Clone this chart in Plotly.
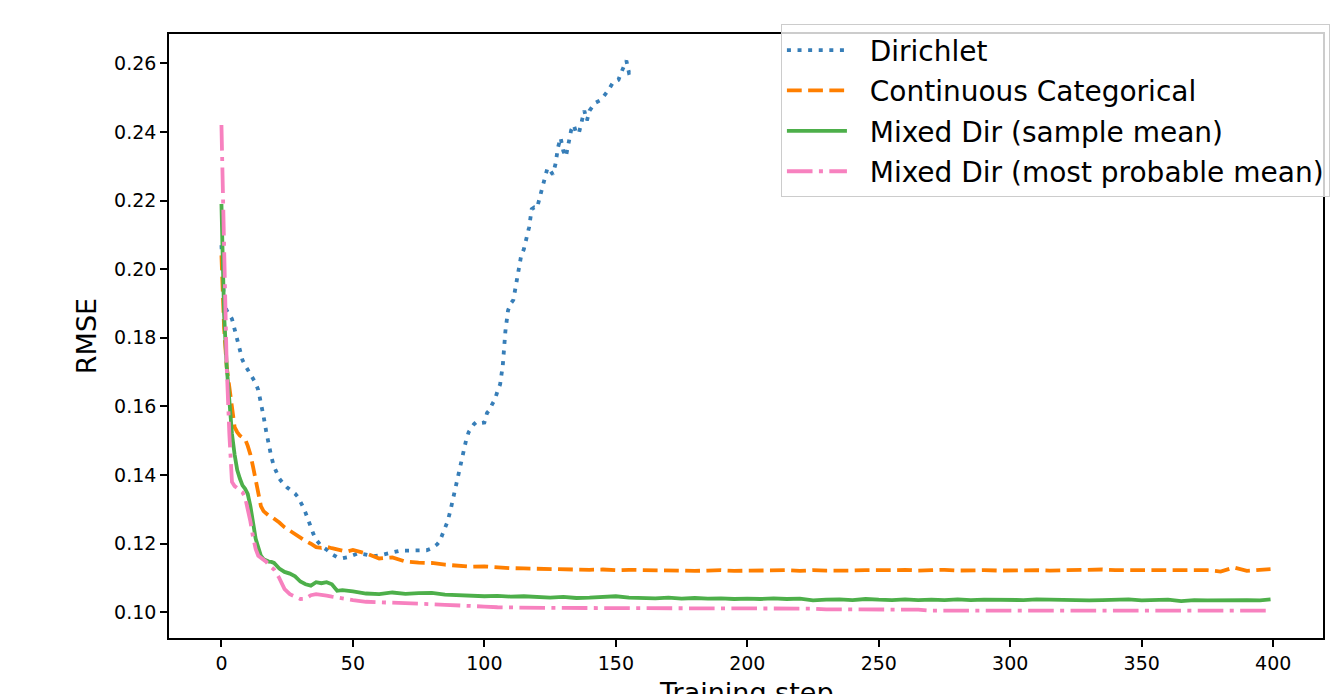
import plotly.graph_objects as go

# ---------------- data ----------------
dir_x = [0, 1, 2, 3, 4, 5, 6, 7, 8, 9, 10, 11, 12, 13, 14, 15, 16, 17, 18, 19,
         20, 21, 22, 23, 24, 25, 26, 27, 28, 29, 30, 31, 32, 33, 34, 35, 36, 37, 38,
         40, 42, 44, 46, 48, 50, 52, 54, 56, 58, 60, 62, 64, 66, 68, 70, 72, 74, 76,
         78, 80, 82, 83, 84, 85, 86, 87, 88, 89, 90, 91, 92, 93, 94, 95, 96, 97, 98,
         99, 100, 101, 102, 103, 104, 105, 106, 107, 108, 109, 110, 111, 112, 113,
         114, 115, 116, 117, 118, 119, 120, 121, 122, 123, 124, 125, 126, 127, 128,
         129, 130, 131, 132, 133, 134, 135, 136, 137, 138, 139, 140, 142, 144, 145,
         147, 149, 151, 152, 153, 154, 155, 156, 157]
dir_y = [0.207, 0.190, 0.188, 0.1865, 0.1855, 0.1825, 0.1798, 0.1765, 0.1735, 0.1720,
         0.1708, 0.1695, 0.1682, 0.1668, 0.1648, 0.1615, 0.1572, 0.1528, 0.1487, 0.1452,
         0.1425, 0.1405, 0.1390, 0.1380, 0.1371, 0.1364, 0.1358, 0.1353, 0.1346, 0.1337,
         0.1325, 0.1308, 0.1290, 0.1268, 0.1248, 0.1228, 0.1212, 0.1200, 0.1193,
         0.1183, 0.1170, 0.1161, 0.1158, 0.1161, 0.1166, 0.1172, 0.1170, 0.1166, 0.1164,
         0.1166, 0.1169, 0.1172, 0.1177, 0.1180, 0.1180, 0.1180, 0.1179, 0.1180,
         0.1181, 0.1187, 0.1198, 0.1207, 0.1225, 0.1241, 0.1265, 0.1294, 0.1330, 0.1357,
         0.1390, 0.1430, 0.1465, 0.1500, 0.1525, 0.1537, 0.1548, 0.1555, 0.1555,
         0.1552, 0.1553, 0.1581, 0.1590, 0.1607, 0.1620, 0.1645, 0.1665, 0.1720, 0.1820,
         0.1880, 0.1900, 0.1910, 0.1955, 0.2000, 0.2040, 0.2058, 0.2088, 0.2122, 0.2175,
         0.2180, 0.2178, 0.2205, 0.2240, 0.2262, 0.2295, 0.2288, 0.2276, 0.2305, 0.2355,
         0.2383, 0.2345, 0.2328, 0.2370, 0.2405, 0.2420, 0.2395, 0.2398, 0.2428, 0.2462,
         0.2433, 0.2462, 0.2484, 0.2492, 0.2500, 0.2520, 0.2545, 0.2552, 0.2572, 0.2590,
         0.2608, 0.2572, 0.2575, 0.2585]

steps = [0, 1, 2, 3, 4, 5, 6, 7, 8, 9, 10, 11, 12, 13, 14, 15, 16, 17, 18, 19, 20,
         22, 24, 26, 28, 30, 32, 34, 36, 38, 40, 42, 44, 46, 48, 50,
         55, 60, 65, 70, 75, 80, 85, 90, 95, 100, 105, 110, 115, 120, 125, 130, 135,
         140, 145, 150, 155, 160, 165, 170, 175, 180, 185, 190, 195, 200, 205, 210,
         215, 220, 225, 230, 235, 240, 245, 250, 255, 260, 265, 270, 275, 280, 285,
         290, 295, 300, 305, 310, 315, 320, 325, 330, 335, 340, 345, 350, 355, 360,
         365, 370, 375, 380, 385, 390, 395, 399]

cc_y = [0.204, 0.183, 0.1715, 0.1655, 0.1590, 0.1540, 0.1525, 0.1515, 0.1510, 0.1505,
        0.1485, 0.1460, 0.1425, 0.1385, 0.1345, 0.1310, 0.1295, 0.1288, 0.1282, 0.1279,
        0.1274,
        0.1262, 0.1248, 0.1238, 0.1225, 0.1218, 0.1208, 0.1200, 0.1190, 0.1188, 0.1191,
        0.1187, 0.1183, 0.1180, 0.1178, 0.1182,
        0.1172, 0.1157, 0.1160, 0.1148, 0.1145, 0.1144, 0.1139, 0.1135, 0.1133, 0.1134,
        0.1131, 0.1129, 0.1128, 0.1127, 0.1126, 0.1125, 0.1125, 0.1124, 0.1125, 0.1123,
        0.1124, 0.1123, 0.1124, 0.1121, 0.1120, 0.1121, 0.1122, 0.1123, 0.1121, 0.1122,
        0.1123, 0.1122, 0.1123, 0.1121, 0.1123, 0.1122, 0.1121, 0.1122, 0.1123, 0.1122,
        0.1123, 0.1124, 0.1122, 0.1123, 0.1124, 0.1122, 0.1123, 0.1123, 0.1122, 0.1123,
        0.1124, 0.1123, 0.1122, 0.1123, 0.1122, 0.1124, 0.1125, 0.1123, 0.1123, 0.1124,
        0.1123, 0.1124, 0.1124, 0.1125, 0.1123, 0.1119, 0.1131, 0.1121, 0.1125, 0.1126]

md_sample_y = [0.219, 0.187, 0.1716, 0.1620, 0.1520, 0.1460, 0.1415, 0.1390, 0.1370,
               0.1360, 0.1345, 0.1310, 0.1260, 0.1215, 0.1190, 0.1165, 0.1155, 0.1150,
               0.1148, 0.1147, 0.1144,
               0.1128, 0.1118, 0.1113, 0.1105, 0.1090, 0.1082, 0.1078, 0.1088, 0.1085,
               0.1088, 0.1082, 0.1063, 0.1065, 0.1062, 0.1061,
               0.1055, 0.1053, 0.1058, 0.1054, 0.1056, 0.1057, 0.1052, 0.1050, 0.1049,
               0.1047, 0.1048, 0.1046, 0.1047, 0.1044, 0.1043, 0.1045, 0.1042, 0.1043,
               0.1044, 0.1047, 0.1043, 0.1042, 0.1041, 0.1043, 0.1040, 0.1042, 0.1040,
               0.1041, 0.1039, 0.1040, 0.1039, 0.1041, 0.1039, 0.1040, 0.1035, 0.1037,
               0.1038, 0.1036, 0.1039, 0.1037, 0.1036, 0.1038, 0.1036, 0.1037, 0.1036,
               0.1038, 0.1036, 0.1037, 0.1036, 0.1037, 0.1036, 0.1038, 0.1037, 0.1037,
               0.1036, 0.1035, 0.1036, 0.1036, 0.1038, 0.1035, 0.1036, 0.1037, 0.1033,
               0.1036, 0.1035, 0.1036, 0.1035, 0.1036, 0.1035, 0.1038]

md_prob_y = [0.242, 0.200, 0.1716, 0.1520, 0.1380, 0.1368, 0.1362, 0.1357, 0.1350,
             0.1335, 0.1305, 0.1265, 0.1220, 0.1185, 0.1165, 0.1160, 0.1155, 0.1148,
             0.1138, 0.1130, 0.1125,
             0.1100, 0.1068, 0.1053, 0.1045, 0.1039, 0.1040, 0.1050, 0.1053, 0.1052,
             0.1049, 0.1046, 0.1043, 0.1041, 0.1038, 0.1036,
             0.1031, 0.1030, 0.1028, 0.1027, 0.1025, 0.1024, 0.1022, 0.1021, 0.1019,
             0.1017, 0.1015, 0.1014, 0.1013, 0.1013, 0.1013, 0.1013, 0.1013, 0.1013,
             0.1013, 0.1013, 0.1013, 0.1013, 0.1013, 0.1013, 0.1013, 0.1013, 0.1013,
             0.1013, 0.1013, 0.1013, 0.1013, 0.1013, 0.1013, 0.1013, 0.1011, 0.1009,
             0.1009, 0.1009, 0.1009, 0.1009, 0.1009, 0.1009, 0.1008, 0.1005, 0.1005,
             0.1005, 0.1005, 0.1005, 0.1005, 0.1005, 0.1005, 0.1005, 0.1005, 0.1005,
             0.1005, 0.1005, 0.1005, 0.1005, 0.1005, 0.1005, 0.1005, 0.1005, 0.1005,
             0.1005, 0.1005, 0.1005, 0.1005, 0.1005, 0.1005, 0.1005]

series_names = ["Dirichlet", "Continuous Categorical",
                "Mixed Dir (sample mean)", "Mixed Dir (most probable mean)"]
x_ticks = [0, 50, 100, 150, 200, 250, 300, 350, 400]
y_ticks = [0.10, 0.12, 0.14, 0.16, 0.18, 0.20, 0.22, 0.24, 0.26]
x_title = "Training step"
y_title = "RMSE"

# ---------------- styles ----------------
FONT = "DejaVu Sans"
LW = 3.8
NB = "\u00a0\u00a0"  # small gap between legend line sample and its text
styles = [
    dict(color="#377eb8", dash="4px,6.6px"),
    dict(color="#ff7f00", dash="14.8px,6.4px"),
    dict(color="#4daf4a", dash="solid"),
    dict(color="#f781bf", dash="25.6px,6.4px,4px,6.4px"),
]
xs = [dir_x, steps, steps, steps]
ys = [dir_y, cc_y, md_sample_y, md_prob_y]

fig = go.Figure()
for i in range(4):
    fig.add_trace(go.Scatter(
        x=xs[i], y=ys[i], mode="lines", name=NB + series_names[i],
        legendgroup=f"g{i}",
        line=dict(color=styles[i]["color"], dash=styles[i]["dash"], width=LW),
    ))

# x-axis title: placed as an annotation so it can run past the bottom edge,
# as in the reference
fig.add_annotation(
    text=x_title, xref="paper", yref="paper", x=0.5, y=-0.062,
    xanchor="center", yanchor="top", showarrow=False,
    font=dict(family=FONT, size=27, color="black"),
)

fig.update_layout(
    width=1331, height=694, autosize=False,
    margin=dict(l=169, r=8, t=34, b=56, pad=0, autoexpand=False),
    paper_bgcolor="white", plot_bgcolor="white",
    font=dict(family=FONT, color="black"),
    showlegend=True,
    legend=dict(
        x=1.006, y=1.016, xanchor="right", yanchor="top",
        bgcolor="rgba(255,255,255,0.8)", bordercolor="#cccccc", borderwidth=1,
        font=dict(family=FONT, size=28, color="black"),
        tracegroupgap=1, traceorder="grouped", itemwidth=60,
    ),
    xaxis=dict(
        range=[-19.95, 418.95], tickvals=x_ticks, ticktext=[str(v) for v in x_ticks],
        showgrid=False, zeroline=False,
        showline=True, mirror=True, linecolor="black", linewidth=1.6,
        ticks="outside", ticklen=7, tickwidth=1.6, tickcolor="black",
        tickfont=dict(family=FONT, size=19, color="black"),
        automargin=False,
    ),
    yaxis=dict(
        range=[0.09254, 0.26853], tickvals=y_ticks,
        ticktext=[f"{v:.2f}" for v in y_ticks],
        showgrid=False, zeroline=False,
        showline=True, mirror=True, linecolor="black", linewidth=1.6,
        ticks="outside", ticklen=7, tickwidth=1.6, tickcolor="black",
        tickfont=dict(family=FONT, size=19, color="black"),
        title=dict(text=y_title, font=dict(family=FONT, size=27, color="black"),
                   standoff=10),
        automargin=False,
    ),
)

post = ("document.body.style.margin='0px';"
        "document.body.style.padding='0px';"
        "document.body.style.overflow='hidden';"
        "Plotly.relayout('{plot_id}', {width: 1331, height: 694});")
fig.write_html("out.html", post_script=post,
               config={"responsive": False, "displayModeBar": False})
